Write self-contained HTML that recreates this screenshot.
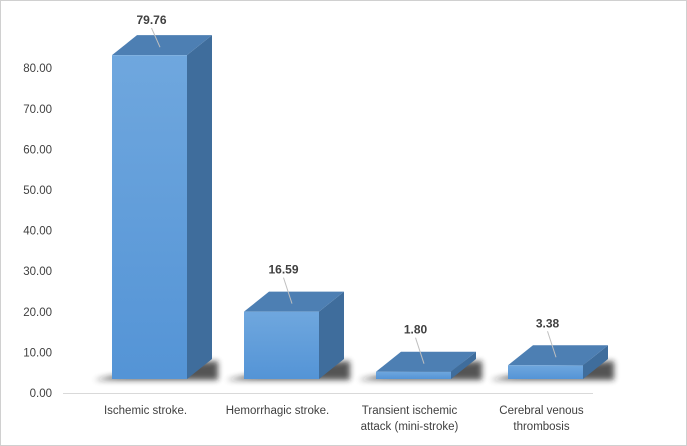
<!DOCTYPE html>
<html><head><meta charset="utf-8">
<style>
html,body{margin:0;padding:0;background:#fff;}
#wrap{position:relative;width:687px;height:446px;overflow:hidden;}
svg{position:absolute;left:0;top:0;}
text{font-family:"Liberation Sans",sans-serif;}
</style></head>
<body>
<div id="wrap">
<svg id="chart" width="687" height="446" viewBox="0 0 687 446">
<defs>
<linearGradient id="front" x1="0" y1="0" x2="0" y2="1">
<stop offset="0" stop-color="#6fa7de"/><stop offset="1" stop-color="#5494d6"/>
</linearGradient>
<filter id="blur" x="-20%" y="-50%" width="140%" height="200%"><feGaussianBlur stdDeviation="3"/></filter>
</defs>
<rect x="0.5" y="0.5" width="686" height="445" fill="#fff" stroke="#d0d0d0"/>
</svg>
</div>
<script>
const categories = [["Ischemic stroke."],["Hemorrhagic stroke."],["Transient ischemic","attack (mini-stroke)"],["Cerebral venous","thrombosis"]];
const values = [79.76, 16.59, 1.80, 3.38];
const valueLabels = ["79.76","16.59","1.80","3.38"];
const tickValues = [0,10,20,30,40,50,60,70,80];
const tickLabels = ["0.00","10.00","20.00","30.00","40.00","50.00","60.00","70.00","80.00"];

const svg = document.getElementById('chart');
const NS = 'http://www.w3.org/2000/svg';
const pxPer = 4.06;
function yTick(v){ return 393 - v*pxPer; }
function yBar(v){ return 379 - v*pxPer; }
function xBar(i){ return 112 + i*132; }
const bw = 75, dx = 25, dy = 20;
function mk(tag, attrs){ const e=document.createElementNS(NS,tag); for(const k in attrs) e.setAttribute(k,attrs[k]); svg.appendChild(e); return e; }

tickValues.forEach((v,i)=>{
  const t = mk('text',{x:52,y:yTick(v)+4,'text-anchor':'end','font-size':'11.5',fill:'#404040'});
  
  
  t.textContent = tickLabels[i];
});
const ax = mk('line',{x1:63,y1:393.5,x2:593,y2:393.5,stroke:'#d9d9d9','stroke-width':1});



values.forEach((v,i)=>{
  const x = xBar(i), yt = yBar(v), yb = 379;
  const sh = mk('polygon',{points:`${x-18},${yb+1} ${x+bw+dx+6},${yb+1} ${x+bw+dx+6},${yb-dy+2} ${x+bw},${yb-dy+4} ${x-4},${yb-2}`,fill:'#1a1a1a',opacity:'0.75',filter:'url(#blur)'});
  
  
  const side = mk('polygon',{points:`${x+bw},${yt} ${x+bw+dx},${yt-dy} ${x+bw+dx},${yb-dy} ${x+bw},${yb}`,fill:'#3f6d9c'});
  
  
  const top = mk('polygon',{points:`${x},${yt} ${x+dx},${yt-dy} ${x+bw+dx},${yt-dy} ${x+bw},${yt}`,fill:'#4d7fb3'});
  
  
  const fr = mk('rect',{x:x,y:yt,width:bw,height:yb-yt,fill:'url(#front)'});
  
  
  const cx = x + bw/2 + 2;
  const lblY = (i===0) ? 24 : yt - dy - 18;
  const ln = mk('line',{x1:cx,y1:lblY+4,x2:cx-4+dx/2,y2:yt-dy/2+2,stroke:'#bfbfbf','stroke-width':1});
  
  
  const lb = mk('text',{x:cx,y:lblY,'text-anchor':'middle','font-size':'12','font-weight':'bold',fill:'#404040'});
  
  
  lb.textContent = valueLabels[i];
  categories[i].forEach((line,j)=>{
    const c = mk('text',{x:x+bw/2-4,y:414+j*16,'text-anchor':'middle','font-size':'11.5',fill:'#404040'});
    
    
    c.textContent = line;
  });
});
</script>
</body></html>
